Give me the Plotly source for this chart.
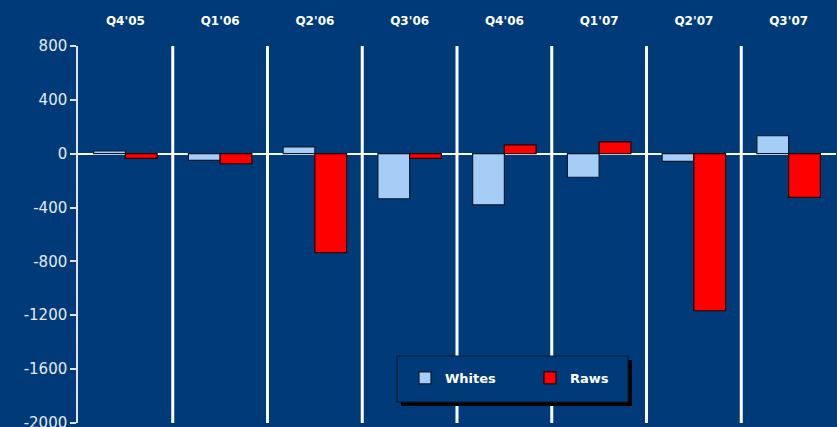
import plotly.graph_objects as go

categories = ["Q4'05", "Q1'06", "Q2'06", "Q3'06", "Q4'06", "Q1'07", "Q2'07", "Q3'07"]
whites = [20, -50, 50, -335, -380, -175, -57, 133]
raws = [-35, -75, -735, -35, 65, 88, -1167, -325]
y_ticks = [800, 400, 0, -400, -800, -1200, -1600, -2000]
y_tick_labels = ["800", "400", "0", "-400", "-800", "-1200", "-1600", "-2000"]

BG = "#003A78"
FONT = "DejaVu Sans"

fig = go.Figure()
fig.add_trace(go.Bar(x=categories, y=whites, name="Whites",
                     marker=dict(color="#A6CDF5", line=dict(color="#0A1A30", width=1.2))))
fig.add_trace(go.Bar(x=categories, y=raws, name="Raws",
                     marker=dict(color="#FF0000", line=dict(color="#2A0000", width=1.2))))

shapes = []
for i in range(1, len(categories)):
    shapes.append(dict(type="line", xref="x", yref="paper", x0=i - 0.5, x1=i - 0.5,
                       y0=0, y1=1, line=dict(color="white", width=3), layer="above"))

# legend box with shadow (paper coordinates)
W, H = 758.0, 377.0
def px(xp):
    return (xp - 78) / W
def py(yp):
    return (423 - yp) / H
shapes.append(dict(type="rect", xref="paper", yref="paper", x0=px(401), x1=px(632),
                   y0=py(406), y1=py(360), fillcolor="black", line=dict(width=0), layer="above"))
shapes.append(dict(type="rect", xref="paper", yref="paper", x0=px(397), x1=px(628),
                   y0=py(402), y1=py(356), fillcolor=BG, line=dict(color="#0A1A30", width=1.2),
                   layer="above"))

fig.update_layout(
    width=837, height=427,
    paper_bgcolor=BG, plot_bgcolor=BG,
    margin=dict(l=78, r=1, t=46, b=4, autoexpand=False),
    bargap=0.33, bargroupgap=0,
    barmode="group",
    font=dict(family=FONT, color="white"),
    showlegend=True,
    legend=dict(orientation="h", x=px(405), y=py(363), xanchor="left", yanchor="top",
                bgcolor="rgba(0,0,0,0)", borderwidth=0,
                font=dict(family=FONT, size=13, color="white", weight="bold"),
                entrywidth=80, itemwidth=30, traceorder="normal"),
    xaxis=dict(side="top", showline=False, showgrid=False, ticks="", automargin=False,
               tickfont=dict(family=FONT, size=12, color="white", weight="bold"),
               ticklabelstandoff=18, fixedrange=True),
    yaxis=dict(range=[-2001, 800], tickvals=y_ticks, ticktext=y_tick_labels, showgrid=False,
               automargin=False,
               showline=True, linecolor="#DDE4EE", linewidth=1.5,
               ticks="outside", ticklen=6, tickcolor="#DDE4EE", tickwidth=1.5,
               ticklabeloverflow="allow",
               tickfont=dict(family=FONT, size=15, color="#E4EAF2"),
               zeroline=True, zerolinecolor="white", zerolinewidth=1.5),
    shapes=shapes,
)

fig.write_html("out.html", config={"displayModeBar": False},
               post_script="document.body.style.margin='0';document.body.style.background='%s';" % BG)
